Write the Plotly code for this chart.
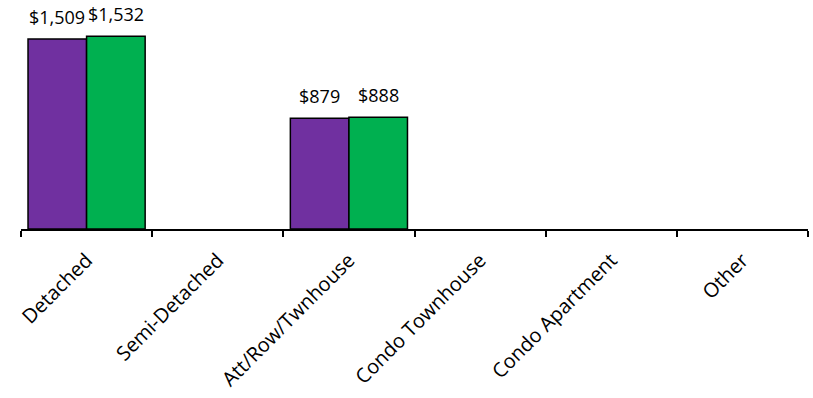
import plotly.graph_objects as go

categories = ["Detached", "Semi-Detached", "Att/Row/Twnhouse", "Condo Townhouse", "Condo Apartment", "Other"]
series_a = [1509, None, 879, None, None, None]
series_b = [1532, None, 888, None, None, None]
colors = ["#7030A0", "#00B050"]

fig = go.Figure()
for vals, col in zip([series_a, series_b], colors):
    fig.add_trace(go.Bar(x=categories, y=vals, marker=dict(color=col, line=dict(color="black", width=1.5))))

font = "Open Sans, sans-serif"
for vals, shift in zip([series_a, series_b], [-29.5, 29.5]):
    for c, v in zip(categories, vals):
        if v is not None:
            fig.add_annotation(x=c, y=v, xref="x", yref="y", text=f"${v:,}", showarrow=False,
                               xshift=shift, yanchor="bottom", yshift=8,
                               font=dict(family=font, size=18, color="black"))

fig.update_layout(
    width=813, height=398,
    margin=dict(l=21, r=5, t=10, b=169),
    plot_bgcolor="white", paper_bgcolor="white",
    showlegend=False,
    bargap=0.107, bargroupgap=0,
    font=dict(family=font, size=19, color="black"),
)
fig.update_xaxes(showline=True, linecolor="black", linewidth=1.5, ticks="outside", tickson="boundaries",
                 ticklen=6, tickcolor="black", tickwidth=1.5, tickangle=-45, showgrid=False,
                 automargin=False, ticklabelstandoff=10,
                 tickfont=dict(family=font, size=20, color="black"))
fig.update_yaxes(visible=False, range=[0, 1740], showgrid=False, automargin=False)

fig.write_html("out.html", config={"displayModeBar": False},
               post_script="document.body.style.margin='0';")
